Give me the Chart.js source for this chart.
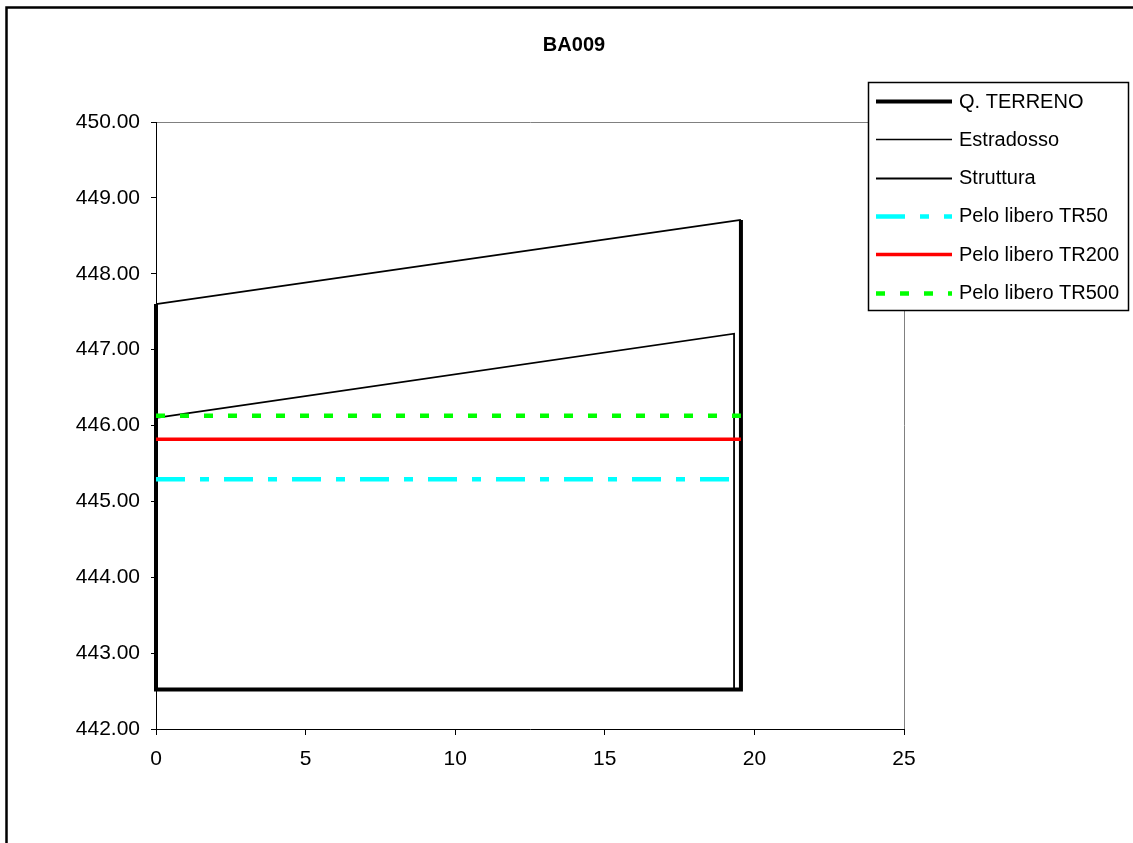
<!DOCTYPE html>
<html>
<head>
<meta charset="utf-8">
<script src="https://cdn.jsdelivr.net/npm/chart.js@4/dist/chart.umd.min.js"></script>
<style>
  html, body { margin: 0; padding: 0; background: #fff; }
  #wrap { width: 1133px; height: 843px; }
</style>
</head>
<body>
<div id="wrap"><canvas id="c" width="1133" height="843"></canvas></div>
<script>
// ---- data ----
const chartTitle = 'BA009';
const seriesNames = ['Q. TERRENO', 'Estradosso', 'Struttura', 'Pelo libero TR50', 'Pelo libero TR200', 'Pelo libero TR500'];

const terrenoX = [0, 0, 19.55, 19.55];
const terrenoY = [447.60, 442.52, 442.52, 448.71];

const estradossoX = [0, 19.55];
const estradossoY = [447.60, 448.71];

const strutturaX = [0, 19.32, 19.32];
const strutturaY = [446.10, 447.21, 442.52];

const tr50X = [0, 19.32];
const tr50Y = [445.29, 445.29];

const tr200X = [0, 19.55];
const tr200Y = [445.82, 445.82];

const tr500X = [0, 19.55];
const tr500Y = [446.13, 446.13];

const xMin = 0, xMax = 25, xStep = 5;
const yMin = 442, yMax = 450, yStep = 1;

// ---- helpers ----
const FONT = "'Liberation Sans', Arial, Helvetica, sans-serif";
function pts(xs, ys) { return xs.map((x, i) => ({ x: x, y: ys[i] })); }

const datasets = [
  { label: seriesNames[0], data: pts(terrenoX, terrenoY), borderColor: '#000000', borderWidth: 4, order: 10 },
  { label: seriesNames[1], data: pts(estradossoX, estradossoY), borderColor: '#000000', borderWidth: 1.6, order: 5 },
  { label: seriesNames[2], data: pts(strutturaX, strutturaY), borderColor: '#000000', borderWidth: 1.8, order: 4 },
  { label: seriesNames[3], data: pts(tr50X, tr50Y), borderColor: '#00FFFF', borderWidth: 4.5, borderDash: [29, 15, 9, 15], order: 3 },
  { label: seriesNames[4], data: pts(tr200X, tr200Y), borderColor: '#FF0000', borderWidth: 3.5, order: 2 },
  { label: seriesNames[5], data: pts(tr500X, tr500Y), borderColor: '#00FF00', borderWidth: 4.5, borderDash: [9, 15], order: 1 }
].map(d => Object.assign({
  showLine: true, pointRadius: 0, pointHoverRadius: 0, fill: false, tension: 0,
  borderCapStyle: 'butt', borderJoinStyle: 'miter', clip: false
}, d));

const decorPlugin = {
  id: 'decor',
  beforeDraw(chart) {
    const ctx = chart.ctx;
    ctx.save();
    ctx.fillStyle = '#ffffff';
    ctx.fillRect(0, 0, chart.width, chart.height);
    ctx.restore();
  },
  afterDraw(chart) {
    const ctx = chart.ctx;
    ctx.save();
    // outer frame (right/bottom edges fall outside the picture)
    ctx.strokeStyle = '#000';
    ctx.lineWidth = 2.5;
    ctx.strokeRect(6.5, 7.5, chart.width + 20, chart.height + 20);

    // title
    ctx.fillStyle = '#000';
    ctx.font = 'bold 20px ' + FONT;
    ctx.textAlign = 'center';
    ctx.textBaseline = 'middle';
    ctx.fillText(chartTitle, 574, 45);

    // legend box
    const bx = 868, by = 82, bw = 260, bh = 228;
    ctx.fillStyle = '#fff';
    ctx.fillRect(bx, by, bw, bh);
    ctx.strokeStyle = '#000';
    ctx.lineWidth = 1.5;
    ctx.strokeRect(bx + 0.5, by + 0.5, bw, bh);

    ctx.font = '20px ' + FONT;
    ctx.textAlign = 'left';
    ctx.textBaseline = 'middle';
    chart.data.datasets.forEach((ds, i) => {
      const cy = 101 + i * 38.3;
      ctx.save();
      ctx.strokeStyle = ds.borderColor;
      ctx.lineWidth = ds.borderWidth;
      ctx.lineCap = 'butt';
      ctx.setLineDash(ds.borderDash || []);
      ctx.beginPath();
      ctx.moveTo(876, Math.round(cy) + 0.5);
      ctx.lineTo(952, Math.round(cy) + 0.5);
      ctx.stroke();
      ctx.restore();
      ctx.fillStyle = '#000';
      ctx.fillText(ds.label, 959, cy + 1);
    });
    ctx.restore();
  }
};

new Chart(document.getElementById('c'), {
  type: 'scatter',
  data: { datasets: datasets },
  plugins: [decorPlugin],
  options: {
    responsive: false,
    animation: false,
    events: [],
    layout: { padding: { top: 122, right: 229, bottom: 0, left: 0 } },
    plugins: {
      legend: { display: false },
      title: { display: false },
      tooltip: { enabled: false }
    },
    scales: {
      x: {
        type: 'linear',
        min: xMin, max: xMax,
        afterFit: s => { s.height = 114; },
        ticks: {
          stepSize: xStep,
          color: '#000',
          font: { family: FONT, size: 21 },
          padding: 12,
          maxRotation: 0,
          callback: v => String(v)
        },
        grid: {
          color: c => (c.tick && c.tick.value === xMax) ? '#808080' : 'rgba(0,0,0,0)',
          tickColor: '#000',
          tickLength: 6,
          lineWidth: 1
        },
        border: { color: '#000', width: 1 }
      },
      y: {
        type: 'linear',
        min: yMin, max: yMax,
        afterFit: s => { s.width = 156; },
        ticks: {
          stepSize: yStep,
          color: '#000',
          font: { family: FONT, size: 21 },
          padding: 11,
          callback: v => Number(v).toFixed(2)
        },
        grid: {
          color: c => (c.tick && c.tick.value === yMax) ? '#808080' : 'rgba(0,0,0,0)',
          tickColor: '#000',
          tickLength: 5,
          lineWidth: 1
        },
        border: { color: '#000', width: 1 }
      }
    }
  }
});
</script>
</body>
</html>
